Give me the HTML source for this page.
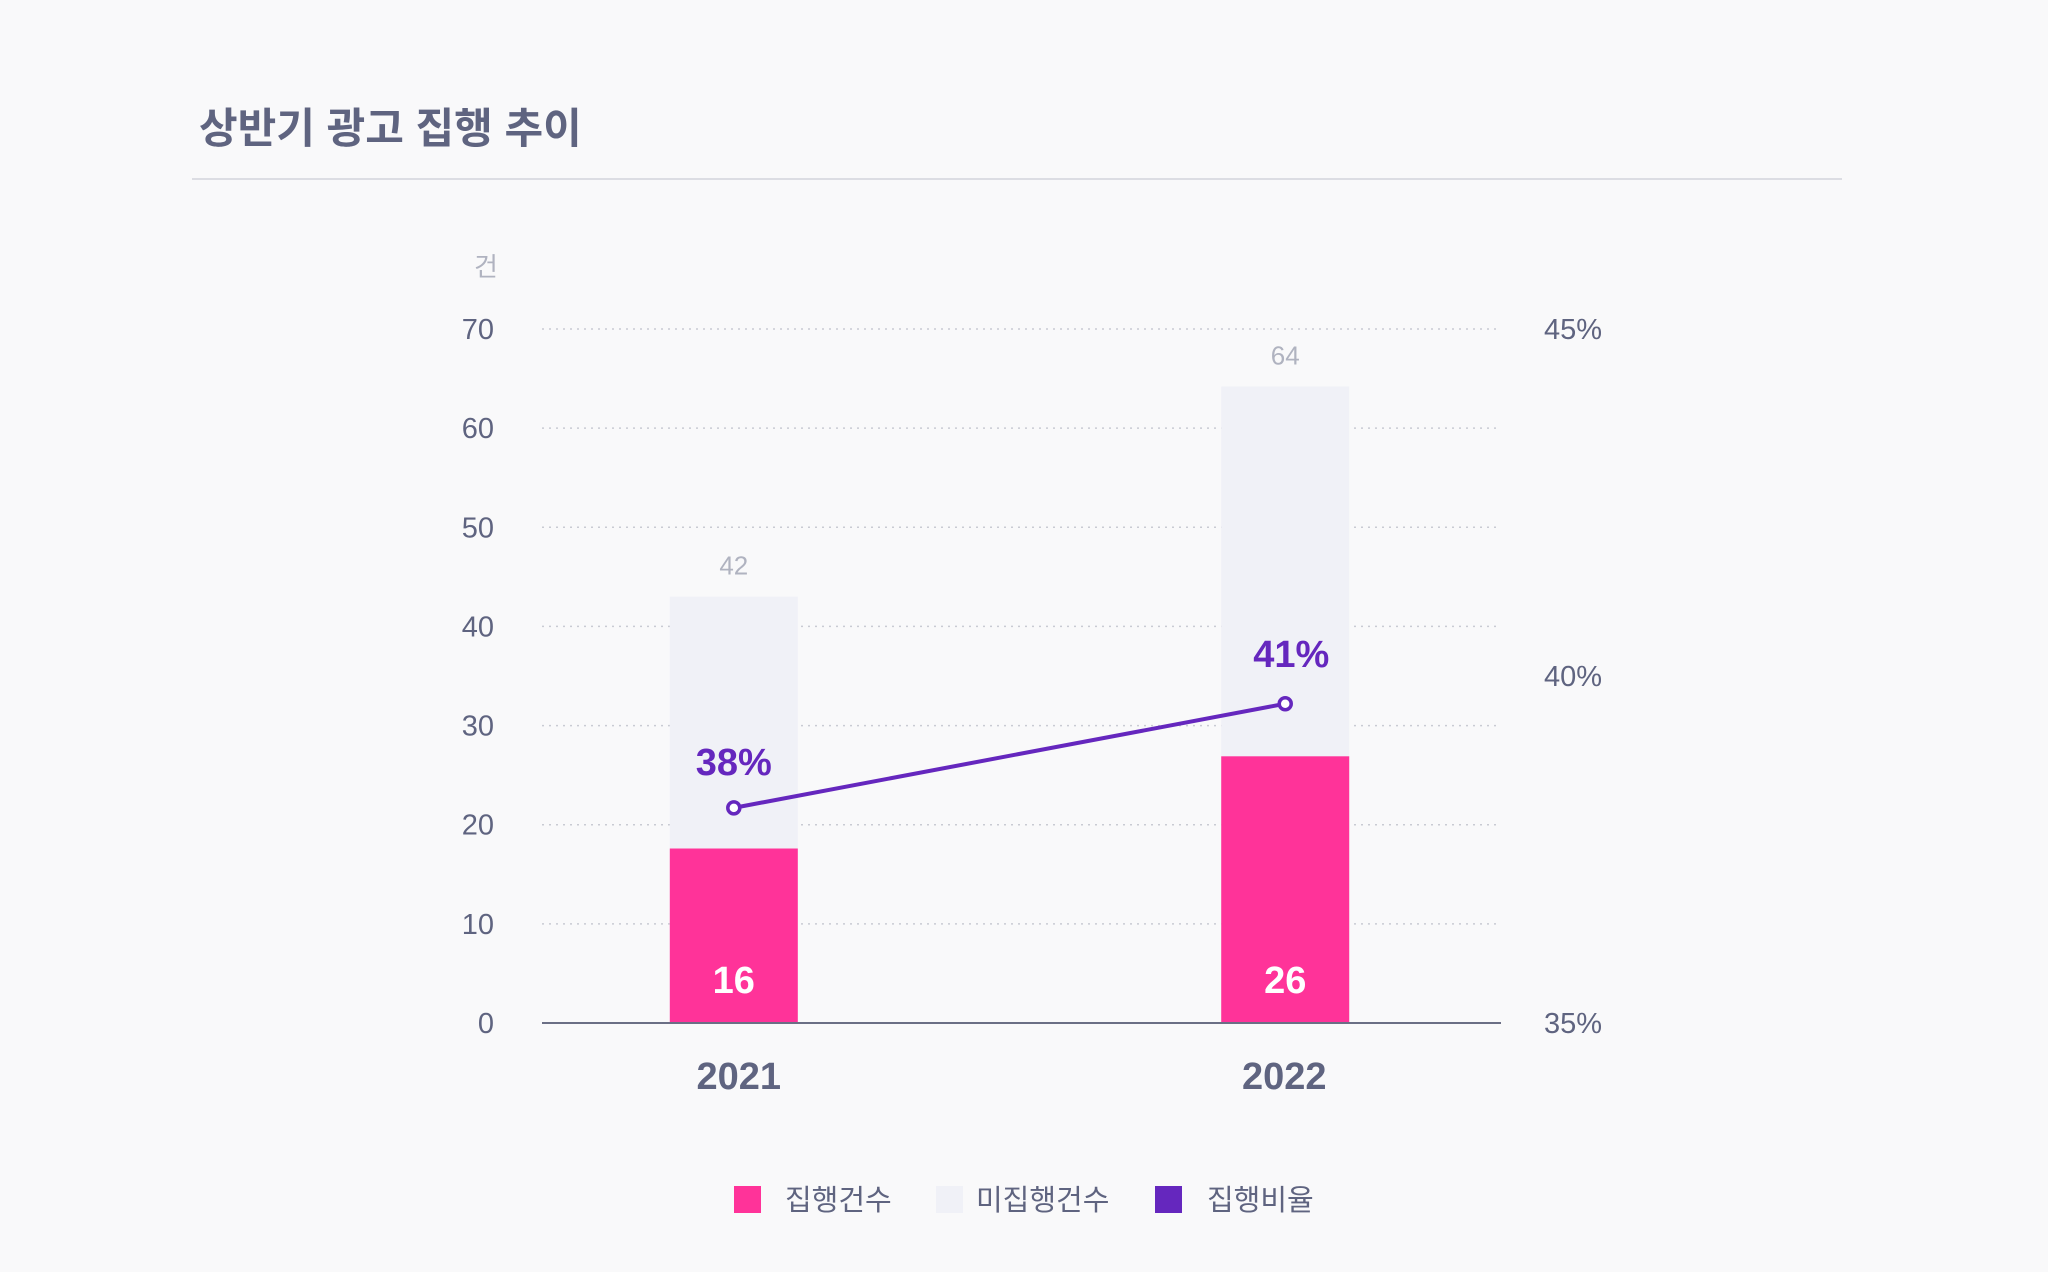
<!DOCTYPE html>
<html><head><meta charset="utf-8"><style>
body{margin:0;background:#f9f9fa;}
svg{display:block;font-family:"Liberation Sans","Noto Sans CJK KR",sans-serif;}
</style></head><body>
<svg id="chart" width="2048" height="1272" viewBox="0 0 2048 1272">
<rect width="2048" height="1272" fill="#f9f9fa"/>
<text x="199" y="143" font-size="42" font-weight="bold" fill="#5f6480">상반기 광고 집행 추이</text>
<line x1="192" y1="179" x2="1842" y2="179" stroke="#dcdde3" stroke-width="2"/>
<text x="486" y="276" font-size="26" fill="#b0b3c0" text-anchor="middle">건</text>
<g id="grid"></g><g id="bars"></g><g id="line"></g><g id="labels"></g>
<g>
<rect x="734" y="1186" width="27" height="27" fill="#ff3399"/>
<text x="785" y="1210" font-size="29" fill="#5f6480">집행건수</text>
<rect x="936" y="1186" width="27" height="27" fill="#f0f1f7"/>
<text x="976" y="1210" font-size="29" fill="#5f6480">미집행건수</text>
<rect x="1155" y="1186" width="27" height="27" fill="#6527be"/>
<text x="1207" y="1210" font-size="29" fill="#5f6480">집행비율</text>
</g>
</svg>
<script>
const years = ['2021','2022'];
const executed = [17.6, 26.9];
const total = [43, 64.2];
const executedLabels = ['16','26'];
const totalLabels = ['42','64'];
const rate = [38.1, 39.6];
const rateLabels = ['38%','41%'];
const leftTicks = [0,10,20,30,40,50,60,70];
const rightTicks = [35,40,45];

const NS='http://www.w3.org/2000/svg';
const X0=542,X1=1501,Y0=1023,Y1=329;
const y=v=>Y0-(v/70)*(Y0-Y1);
const yr=v=>Y0-((v-35)/10)*(Y0-Y1);
const xc=i=>X0+(X1-X0)*(0.2+0.575*i);
const BW=128;
function mk(tag,attrs,parent,text){const e=document.createElementNS(NS,tag);for(const k in attrs)e.setAttribute(k,attrs[k]);if(text!==undefined)e.textContent=text;document.getElementById(parent).appendChild(e);return e;}
leftTicks.forEach(t=>{
  if(t>0){const g=mk('line',{x1:X0,x2:X1,y1:y(t),y2:y(t),stroke:'#c9cbd3','stroke-width':1.5,'stroke-dasharray':'2 5'},'grid');
  
  }
  const l=mk('text',{x:494,y:y(t)+10,'font-size':29,fill:'#5f6480','text-anchor':'end'},'grid',String(t));
  
  
});
rightTicks.forEach(t=>{
  const l=mk('text',{x:1544,y:yr(t)+10,'font-size':29,fill:'#5f6480'},'grid',t+'%');
  
  
});
years.forEach((yrs,i)=>{
  const cx=xc(i);
  const b1=mk('rect',{x:cx-BW/2,y:y(total[i]),width:BW,height:Y0-y(total[i]),fill:'#f0f1f7'},'bars');
  
  
  const b2=mk('rect',{x:cx-BW/2,y:y(executed[i]),width:BW,height:Y0-y(executed[i]),fill:'#ff3399'},'bars');
  
  
  const t1=mk('text',{x:cx,y:y(total[i])-22,'font-size':26,fill:'#b0b3c0','text-anchor':'middle'},'labels',totalLabels[i]);
  
  
  const t2=mk('text',{x:cx,y:Y0-30,'font-size':38,'font-weight':'bold',fill:'#ffffff','text-anchor':'middle'},'labels',executedLabels[i]);
  
  
  const xl=mk('text',{x:cx+(i?-1:5),y:1089,'font-size':38,'font-weight':'bold',fill:'#5f6480','text-anchor':'middle'},'labels',yrs);
  
  
});
const ax=mk('line',{x1:X0,x2:X1,y1:Y0,y2:Y0,stroke:'#6b6f85','stroke-width':2},'bars');


const pts=rate.map((r,i)=>[xc(i),yr(r)]);
const pl=mk('polyline',{points:pts.map(p=>p.join(',')).join(' '),fill:'none',stroke:'#6527be','stroke-width':4},'line');


pts.forEach((p,i)=>{
  const c=mk('circle',{cx:p[0],cy:p[1],r:6,fill:'#ffffff',stroke:'#6527be','stroke-width':3.5},'line');
  
  
  const t=mk('text',{x:p[0]+(i?6:0),y:p[1]-(i?37:33),'font-size':38,'font-weight':'bold',fill:'#6527be','text-anchor':'middle'},'labels',rateLabels[i]);
  
  
});
</script>
</body></html>
